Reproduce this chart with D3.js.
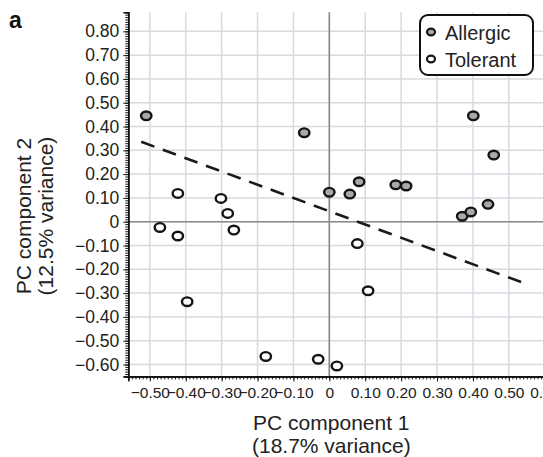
<!DOCTYPE html>
<html>
<head>
<meta charset="utf-8">
<script src="https://cdn.jsdelivr.net/npm/d3@7"></script>
<style>
  html, body { margin: 0; padding: 0; background: #fff; }
  svg { display: block; font-family: "Liberation Sans", Arial, Helvetica, sans-serif; }
</style>
</head>
<body>
<svg id="chart" width="543" height="457"></svg>
<script>
// ---- Data ----
const allergicX = [-0.510, -0.070, 0.000, 0.057, 0.083, 0.185, 0.214, 0.401, 0.458, 0.442, 0.370, 0.394];
const allergicY = [0.445, 0.374, 0.124, 0.116, 0.168, 0.155, 0.150, 0.445, 0.280, 0.073, 0.023, 0.041];
const tolerantX = [-0.422, -0.472, -0.422, -0.302, -0.283, -0.266, -0.396, -0.177, -0.031, 0.021, 0.108, 0.078];
const tolerantY = [0.119, -0.024, -0.060, 0.098, 0.035, -0.035, -0.336, -0.566, -0.578, -0.606, -0.290, -0.092];
const trendX = [-0.524, 0.542];
const trendY = [0.336, -0.258];
const xTickValues = [-0.5, -0.4, -0.3, -0.2, -0.1, 0, 0.1, 0.2, 0.3, 0.4, 0.5, 0.6];
const yTickValues = [-0.6, -0.5, -0.4, -0.3, -0.2, -0.1, 0, 0.1, 0.2, 0.3, 0.4, 0.5, 0.6, 0.7, 0.8];
const legendLabels = ["Allergic", "Tolerant"];
const xTitle = ["PC component 1", "(18.7% variance)"];
const yTitle = ["PC component 2", "(12.5% variance)"];
const panelLabel = "a";

// ---- Layout ----
const svg = d3.select("#chart");
const x = d3.scaleLinear().domain([-0.56, 0.64]).range([128.3, 559.1]);
const y = d3.scaleLinear().domain([-0.65, 0.88]).range([376.4, 12.3]);
const [x0, x1] = x.range();
const [yb, yt] = y.range();

const fmt = v => Math.abs(v) < 1e-9 ? "0" : (v < 0 ? "\u2212" : "") + Math.abs(v).toFixed(2);

// grid
const grid = svg.append("g");
grid.selectAll("line.gx").data(xTickValues).join("line")
  .attr("x1", d => x(d)).attr("x2", d => x(d)).attr("y1", yt).attr("y2", yb)
  .attr("stroke", "#d9d9e1").attr("stroke-width", 1.5);
grid.selectAll("line.gy").data(yTickValues).join("line")
  .attr("x1", x0).attr("x2", x1).attr("y1", d => y(d)).attr("y2", d => y(d))
  .attr("stroke", "#d9d9e1").attr("stroke-width", 1.5);
// zero lines
grid.append("line").attr("x1", x(0)).attr("x2", x(0)).attr("y1", yt).attr("y2", yb)
  .attr("stroke", "#8a8a90").attr("stroke-width", 1.6);
grid.append("line").attr("x1", x0).attr("x2", x1).attr("y1", y(0)).attr("y2", y(0))
  .attr("stroke", "#8a8a90").attr("stroke-width", 1.6);

// minor ticks
const xMinor = d3.range(-56, 65).map(i => i / 100);
const yMinor = d3.range(-65, 89).map(i => i / 100);

const xAxisMinor = d3.axisBottom(x).tickValues(xMinor).tickSize(3).tickFormat("");
const xAxisMajor = d3.axisBottom(x).tickValues(xTickValues).tickSize(5).tickPadding(6).tickFormat(fmt);
const yAxisMinor = d3.axisLeft(y).tickValues(yMinor).tickSize(3).tickFormat("");
const yAxisMajor = d3.axisLeft(y).tickValues(yTickValues).tickSize(5).tickPadding(4).tickFormat(fmt);

function styleAxis(g) {
  g.select(".domain").attr("stroke", "#111").attr("stroke-width", 1.6);
  g.selectAll(".tick line").attr("stroke", "#111").attr("stroke-width", 1);
}
svg.append("g").attr("transform", `translate(0,${yb})`).call(xAxisMinor).call(styleAxis);
const gx = svg.append("g").attr("transform", `translate(0,${yb})`).call(xAxisMajor).call(styleAxis);
gx.selectAll("text").attr("font-size", 15.5).attr("fill", "#222").attr("font-family", "Liberation Sans, Arial, sans-serif");
svg.append("g").attr("transform", `translate(${x0},0)`).call(yAxisMinor).call(styleAxis);
const gy = svg.append("g").attr("transform", `translate(${x0},0)`).call(yAxisMajor).call(styleAxis);
gy.selectAll("text").attr("font-size", 17.5).attr("fill", "#222").attr("font-family", "Liberation Sans, Arial, sans-serif");

// trend line
svg.append("line")
  .attr("x1", x(trendX[0])).attr("y1", y(trendY[0]))
  .attr("x2", x(trendX[1])).attr("y2", y(trendY[1]))
  .attr("stroke", "#1a1a1a").attr("stroke-width", 2.6)
  .attr("stroke-dasharray", "14,9");

// points
const pts = [];
allergicX.forEach((v, i) => pts.push({x: v, y: allergicY[i], g: 0}));
tolerantX.forEach((v, i) => pts.push({x: v, y: tolerantY[i], g: 1}));
const fills = ["#a9a9ab", "#ffffff"];
svg.append("g").selectAll("ellipse").data(pts).join("ellipse")
  .attr("cx", d => x(d.x)).attr("cy", d => y(d.y))
  .attr("rx", 5.2).attr("ry", 4.3)
  .attr("fill", d => fills[d.g])
  .attr("stroke", "#151515").attr("stroke-width", 2.4);

// legend
const leg = svg.append("g");
leg.append("rect").attr("x", 420).attr("y", 15).attr("width", 113).attr("height", 60)
  .attr("rx", 8).attr("fill", "#fff").attr("stroke", "#111").attr("stroke-width", 2);
legendLabels.forEach((lab, i) => {
  leg.append("ellipse").attr("cx", 431).attr("cy", 32 + i * 27).attr("rx", 4.0).attr("ry", 3.3)
    .attr("fill", fills[i]).attr("stroke", "#151515").attr("stroke-width", 2.2);
  leg.append("text").attr("x", 445).attr("y", 39.5 + i * 27).attr("font-size", 20)
    .attr("fill", "#222").text(lab);
});

// axis titles
const xc = x(0) + 2;
svg.append("text").attr("x", xc).attr("y", 430).attr("text-anchor", "middle")
  .attr("font-size", 21).attr("fill", "#222").text(xTitle[0]);
svg.append("text").attr("x", xc).attr("y", 453).attr("text-anchor", "middle")
  .attr("font-size", 21).attr("fill", "#222").text(xTitle[1]);
svg.append("text").attr("transform", "translate(31,216) rotate(-90)").attr("text-anchor", "middle")
  .attr("font-size", 21).attr("fill", "#222").text(yTitle[0]);
svg.append("text").attr("transform", "translate(53,216) rotate(-90)").attr("text-anchor", "middle")
  .attr("font-size", 21).attr("fill", "#222").text(yTitle[1]);

// panel label
svg.append("text").attr("x", 9).attr("y", 28).attr("font-size", 23).attr("font-weight", "bold")
  .attr("fill", "#111").text(panelLabel);
</script>
</body>
</html>
